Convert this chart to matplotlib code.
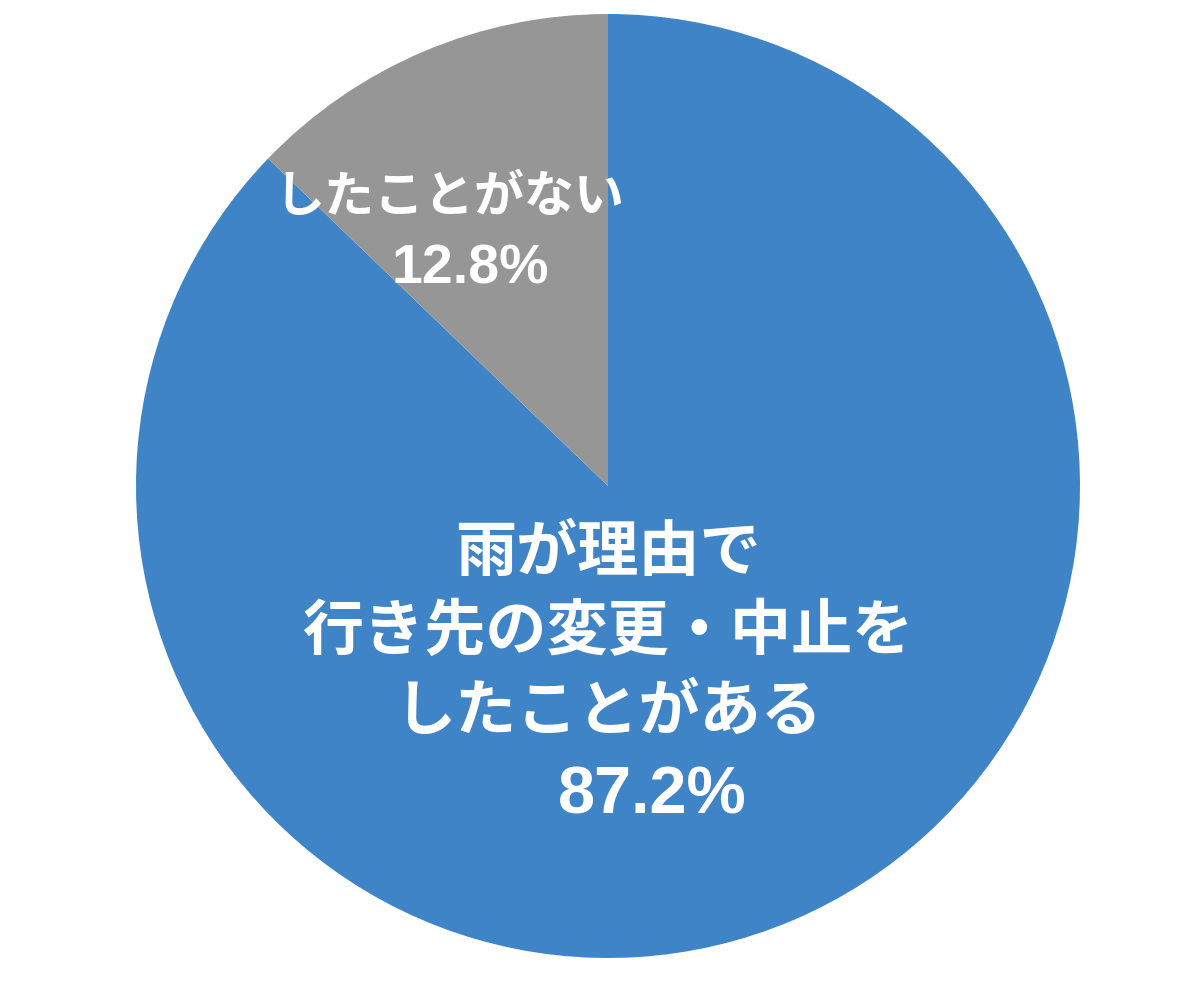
import matplotlib
matplotlib.use("Agg")
import matplotlib.pyplot as plt

labels = ["雨が理由で\n行き先の変更・中止を\nしたことがある", "したことがない"]
values = [87.2, 12.8]
colors = ["#3F84C6", "#969696"]

plt.rcParams['font.family'] = ['Liberation Sans', 'Noto Sans CJK JP', 'DejaVu Sans']

fig = plt.figure(figsize=(12, 9.98), dpi=100)
ax = fig.add_axes([0, 0, 1, 1])

ax.pie(values, colors=colors, startangle=90, counterclock=False,
       center=(608, 512), radius=472, frame=True,
       wedgeprops=dict(linewidth=0))
ax.set_xlim(0, 1200)
ax.set_ylim(0, 998)
ax.set_aspect('equal')
ax.axis('off')

tk = dict(color='white', fontweight='bold', ha='center', va='center')
ax.text(450, 799, labels[1], fontsize=36, **tk)
ax.text(470, 729, f"{values[1]}%", fontsize=40, **tk)

main_lines = labels[0].split("\n")
ys = [443, 364, 284]
for line, y in zip(main_lines, ys):
    ax.text(608, y, line, fontsize=44, **tk)
ax.text(652, 202, f"{values[0]}%", fontsize=48, **tk)

fig.savefig("out.png", dpi=100)
